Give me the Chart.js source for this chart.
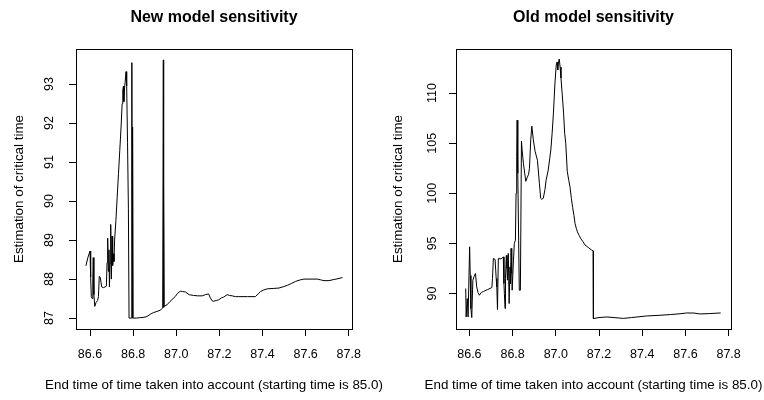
<!DOCTYPE html>
<html>
<head>
<meta charset="utf-8">
<script src="https://cdn.jsdelivr.net/npm/chart.js@4.4.1/dist/chart.umd.min.js"></script>
<style>
  body { margin: 0; background: #fff; }
  canvas { position: absolute; top: 0; }
  #chartNew { left: 0; }
  #chartOld { left: 382px; }
</style>
</head>
<body>
<canvas id="chartNew" width="382" height="400"></canvas>
<canvas id="chartOld" width="382" height="400"></canvas>
<script>
var xTicks = [86.6, 86.8, 87.0, 87.2, 87.4, 87.6, 87.8];
var newTicksY = [87, 88, 89, 90, 91, 92, 93];
var oldTicksY = [90, 95, 100, 105, 110];

// new model: end time vs estimated critical time
var newX = [86.581, 86.590, 86.600, 86.603, 86.606, 86.610, 86.613, 86.615, 86.618, 86.622,
  86.628, 86.635, 86.639, 86.643, 86.648, 86.654, 86.662, 86.670, 86.676, 86.679,
  86.682, 86.685, 86.688, 86.690, 86.693, 86.696, 86.699, 86.702, 86.705, 86.708,
  86.711, 86.714, 86.720, 86.726, 86.732, 86.738, 86.744, 86.749, 86.752, 86.755,
  86.757, 86.760, 86.763, 86.767, 86.770, 86.774, 86.778, 86.781, 86.786, 86.791,
  86.794, 86.796, 86.797, 86.798, 86.800, 86.815, 86.830, 86.850, 86.864, 86.880,
  86.894, 86.910, 86.925, 86.937, 86.940, 86.941, 86.942, 86.944, 86.957, 86.970,
  86.985, 86.995, 87.005, 87.019, 87.030, 87.042, 87.060, 87.080, 87.100, 87.120,
  87.135, 87.150, 87.158, 87.165, 87.171, 87.185, 87.197, 87.210, 87.220, 87.236,
  87.248, 87.259, 87.275, 87.290, 87.330, 87.367, 87.380, 87.391, 87.405, 87.422,
  87.450, 87.476, 87.500, 87.515, 87.535, 87.553, 87.575, 87.592, 87.620, 87.654,
  87.670, 87.685, 87.708, 87.732, 87.750, 87.771];
var newY = [88.34, 88.55, 88.72, 88.05, 87.55, 87.50, 88.00, 88.55, 87.60, 87.30,
  87.40, 87.45, 87.55, 88.07, 88.03, 87.80, 87.78, 87.80, 87.82, 88.42,
  89.05, 88.20, 88.75, 87.80, 88.40, 89.40, 88.00, 89.10, 88.35, 88.65,
  88.45, 89.00, 89.50, 90.10, 90.70, 91.30, 91.90, 92.50, 92.85, 92.95,
  92.55, 92.90, 93.05, 93.32, 92.95, 91.50, 89.80, 87.00, 87.00, 87.00,
  93.55, 87.00, 88.60, 91.90, 87.00, 87.00, 87.01, 87.02, 87.04, 87.10,
  87.14, 87.17, 87.20, 87.26, 93.62, 87.27, 90.44, 87.30, 87.34, 87.42,
  87.50, 87.55, 87.63, 87.69, 87.68, 87.67, 87.60, 87.58, 87.57, 87.57,
  87.60, 87.62, 87.52, 87.45, 87.43, 87.45, 87.47, 87.52, 87.54, 87.60,
  87.58, 87.57, 87.55, 87.55, 87.55, 87.55, 87.62, 87.68, 87.72, 87.75,
  87.76, 87.77, 87.81, 87.84, 87.89, 87.94, 87.98, 88.00, 88.00, 88.00,
  87.98, 87.96, 87.96, 87.99, 88.01, 88.04];

// old model
var oldX = [86.583, 86.585, 86.588, 86.590, 86.594, 86.598, 86.601, 86.604, 86.607, 86.611,
  86.616, 86.622, 86.628, 86.634, 86.640, 86.646, 86.655, 86.665, 86.685, 86.700,
  86.704, 86.707, 86.711, 86.719, 86.724, 86.727, 86.730, 86.734, 86.742, 86.750,
  86.757, 86.760, 86.762, 86.765, 86.767, 86.771, 86.774, 86.776, 86.780, 86.784,
  86.788, 86.790, 86.793, 86.796, 86.798, 86.804, 86.808, 86.813, 86.816, 86.819,
  86.821, 86.823, 86.825, 86.828, 86.831, 86.836, 86.838, 86.841, 86.844, 86.850,
  86.856, 86.861, 86.868, 86.874, 86.878, 86.884, 86.889, 86.896, 86.904, 86.915,
  86.924, 86.930, 86.935, 86.942, 86.950, 86.955, 86.965, 86.972, 86.977, 86.983,
  86.989, 86.996, 87.002, 87.006, 87.009, 87.012, 87.016, 87.020, 87.024, 87.030,
  87.036, 87.041, 87.046, 87.053, 87.060, 87.066, 87.072, 87.078, 87.084, 87.089,
  87.095, 87.100, 87.108, 87.115, 87.125, 87.135, 87.150, 87.165, 87.173, 87.174,
  87.200, 87.236, 87.270, 87.312, 87.350, 87.420, 87.482, 87.530, 87.575, 87.606,
  87.640, 87.667, 87.713, 87.763];
var oldY = [90.50, 87.66, 87.66, 89.50, 87.66, 87.66, 94.66, 91.80, 88.50, 87.60,
  91.33, 91.70, 92.00, 90.66, 90.10, 89.83, 90.10, 90.20, 90.40, 90.55,
  90.60, 91.50, 93.50, 93.40, 91.50, 90.66, 88.40, 93.50, 93.45, 93.50,
  93.66, 91.00, 90.00, 88.50, 91.50, 93.80, 92.50, 91.33, 94.00, 89.00,
  92.66, 91.00, 94.50, 92.00, 90.33, 93.33, 95.00, 95.33, 100.00, 103.66,
  107.30, 104.50, 102.00, 95.33, 90.33, 90.33, 90.33, 105.20, 104.33, 103.00,
  102.00, 101.20, 101.60, 101.90, 102.50, 105.33, 106.70, 105.33, 104.20, 103.30,
  101.00, 99.50, 99.40, 99.50, 100.40, 101.30, 102.33, 103.50, 104.33, 106.00,
  108.00, 111.00, 112.80, 113.10, 112.30, 113.00, 113.40, 112.60, 111.50, 109.80,
  108.00, 106.00, 105.00, 102.20, 101.30, 100.60, 99.50, 98.60, 97.80, 97.00,
  96.50, 96.16, 95.80, 95.50, 95.20, 94.85, 94.60, 94.35, 94.26, 87.50,
  87.60, 87.66, 87.60, 87.52, 87.60, 87.76, 87.83, 87.90, 87.98, 88.06,
  88.05, 87.96, 88.00, 88.06];

var fontFamily = "'Liberation Sans', Arial, sans-serif";
var xLabel = 'End time of time taken into account (starting time is 85.0)';

function pts(xs, ys) {
  return xs.map(function (x, i) { return { x: x, y: ys[i] }; });
}

// box round the plot region, bold main title and the x label (R style).
// the x label is drawn here because the axis title gets squeezed to the plot width
var framePlugin = {
  id: 'frame',
  afterDraw: function (chart, args, opts) {
    var a = chart.chartArea, ctx = chart.ctx;
    var cx = (a.left + a.right) / 2;
    ctx.save();
    ctx.strokeStyle = '#000';
    ctx.lineWidth = 1;
    ctx.strokeRect(Math.round(a.left) + 0.5, Math.round(a.top) + 0.5,
      Math.round(a.right - a.left), Math.round(a.bottom - a.top));
    ctx.fillStyle = '#000';
    ctx.textAlign = 'center';
    ctx.textBaseline = 'middle';
    ctx.font = 'bold 16px ' + fontFamily;
    ctx.fillText(opts.text, cx, 18);
    ctx.font = '13.4px ' + fontFamily;
    ctx.fillText(xLabel, cx, 385);
    ctx.restore();
  }
};

function makeChart(id, title, xs, ys, yTicks, yMin, yMax, xMin, xMax, plotLeft, plotRight, yPad, yTitlePad) {
  var ctx = document.getElementById(id).getContext('2d');
  return new Chart(ctx, {
    type: 'scatter',
    data: {
      datasets: [{
        data: pts(xs, ys),
        showLine: true,
        borderColor: '#000',
        borderWidth: 1,
        pointRadius: 0,
        tension: 0
      }]
    },
    options: {
      responsive: false,
      animation: false,
      layout: { padding: { left: 0, right: 382 - plotRight, top: 49, bottom: 0 } },
      plugins: {
        legend: { display: false },
        tooltip: { enabled: false },
        frame: { text: title }
      },
      scales: {
        x: {
          type: 'linear',
          bounds: 'data',
          min: xMin,
          max: xMax,
          afterBuildTicks: function (s) { s.ticks = xTicks.map(function (v) { return { value: v }; }); },
          afterFit: function (s) { s.height = 71; },
          grid: { drawOnChartArea: false, drawTicks: true, tickLength: 7, color: '#000' },
          border: { display: false },
          ticks: {
            autoSkip: false, maxRotation: 0, padding: 11, color: '#000',
            font: { family: fontFamily, size: 12.5 },
            callback: function (v) { return Number(v).toFixed(1); }
          }
        },
        y: {
          type: 'linear',
          bounds: 'data',
          min: yMin,
          max: yMax,
          afterBuildTicks: function (s) { s.ticks = yTicks.map(function (v) { return { value: v }; }); },
          afterFit: function (s) { s.width = plotLeft; },
          grid: { drawOnChartArea: false, drawTicks: true, tickLength: 7, color: '#000' },
          border: { display: false },
          ticks: {
            autoSkip: false, minRotation: 90, maxRotation: 90, crossAlign: 'center',
            padding: yPad, color: '#000',
            font: { family: fontFamily, size: 12.5 },
            callback: function (v) { return String(v); }
          },
          title: {
            display: true,
            text: 'Estimation of critical time',
            color: '#000',
            font: { family: fontFamily, size: 13.4 },
            padding: { top: yTitlePad, bottom: 0 }
          }
        }
      }
    },
    plugins: [framePlugin]
  });
}

var chartNew = makeChart('chartNew', 'New model sensitivity', newX, newY, newTicksY,
  86.72, 93.9, 86.535, 87.815, 76, 352, 13, 11);
var chartOld = makeChart('chartOld', 'Old model sensitivity', oldX, oldY, oldTicksY,
  86.46, 114.4, 86.538, 87.811, 74, 349, 6, 8);
</script>
</body>
</html>
